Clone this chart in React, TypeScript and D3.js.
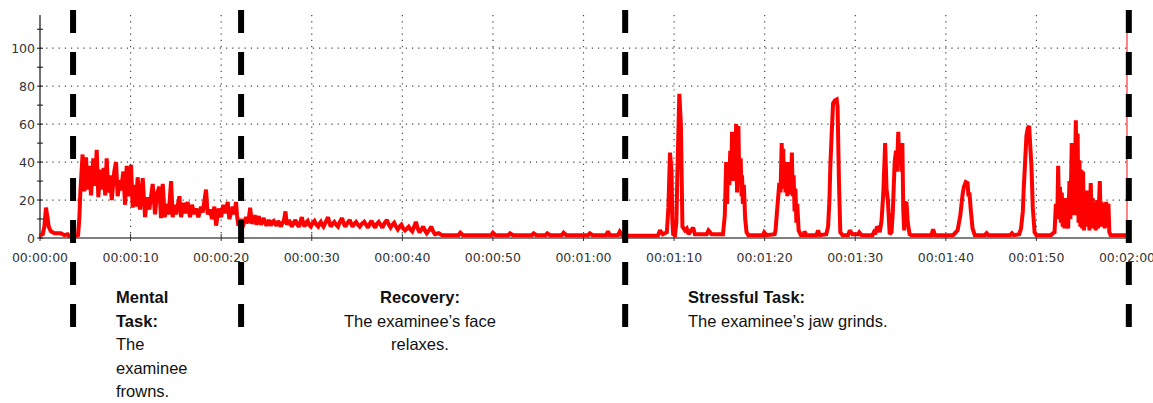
import React from "react";
import * as d3 from "d3";

// ---------- data (seconds, EMG amplitude) ----------
const restSeg: [number, number][] = [
  [0, 1.5], [0.3, 2], [0.48, 6], [0.66, 16], [0.85, 10], [0.96, 6], [1.2, 3.5], [1.6, 2.5],
  [2.3, 2.5], [2.7, 1.5], [3.05, 2], [3.2, 1], [3.9, 1], [4.2, 1.5],
];

const mentalSeg: [number, number][] = [
  [4.34, 10], [4.45, 24], [4.7, 44], [4.9, 24.5], [5.08, 42.5], [5.26, 25.5], [5.45, 38], [5.63, 22.5],
  [5.89, 42], [6.07, 27.5], [6.26, 46.5], [6.44, 21.5], [6.66, 36], [6.85, 25.5], [7.03, 37], [7.2, 22.5],
  [7.36, 42], [7.55, 24], [7.73, 33], [7.92, 20], [8.2, 35], [8.39, 40], [8.58, 22], [8.76, 30.5],
  [8.94, 25], [9.2, 35], [9.39, 17.5], [9.57, 38], [9.75, 22], [10.05, 38.5], [10.23, 16], [10.42, 28],
  [10.6, 16.5], [10.78, 32], [11.04, 15], [11.34, 31.5], [11.6, 11], [11.82, 21.5], [12.07, 15], [12.44, 28.5],
  [12.7, 12.5], [12.92, 23.5], [13.18, 27], [13.36, 10.5], [13.55, 28.5], [13.77, 11], [13.99, 18], [14.21, 12.5],
  [14.47, 30], [14.65, 11], [14.83, 17.5], [15.02, 12.5], [15.39, 22], [15.57, 11], [15.83, 18.5], [16.05, 13],
  [16.3, 19], [16.56, 11], [16.78, 17.5], [17.04, 12.5], [17.23, 15.5], [17.48, 11], [17.78, 16.5], [17.96, 13.5],
  [18.33, 25.5], [18.51, 12.5], [18.77, 15], [18.99, 10], [19.25, 16.5], [19.44, 6.5], [19.73, 15.5], [19.99, 11],
  [20.24, 17.5], [20.47, 13], [20.72, 19], [20.9, 10], [21.27, 16.5], [21.46, 12.5], [21.64, 19], [21.75, 12],
];

const recoverySeg: [number, number][] = [
  [21.9, 6.5], [22.05, 8.5], [22.2, 10], [22.35, 7.5], [22.45, 7], [22.6, 9], [22.75, 11], [22.9, 8.5],
  [23.0, 8], [23.2, 16], [23.4, 7.5], [23.55, 9.5], [23.7, 12], [23.9, 7], [24.0, 9], [24.15, 11.5],
  [24.4, 7], [24.55, 9], [24.7, 10.5], [24.85, 8], [25.0, 6.5], [25.25, 9.5], [25.4, 7.5], [25.5, 6.5],
  [25.65, 8.5], [25.8, 9], [25.95, 7.5], [26.1, 6.5], [26.3, 9], [26.45, 7.5], [26.6, 6], [26.75, 8],
  [26.9, 8.5], [27.1, 14], [27.25, 7], [27.5, 9.5], [27.65, 7.5], [27.8, 6], [28.0, 8], [28.2, 9.5],
  [28.4, 7], [28.6, 6], [28.75, 8.5], [28.9, 11], [29.05, 8], [29.2, 6], [29.35, 8], [29.55, 9],
  [29.7, 7], [29.9, 6], [30.1, 8], [30.3, 9], [30.5, 7], [30.7, 6], [30.85, 7.5], [31.0, 8.5],
  [31.15, 7], [31.3, 6], [31.55, 8.5], [31.8, 11], [31.95, 8], [32.1, 6], [32.3, 7.5], [32.5, 8.5],
  [32.7, 7], [32.9, 6], [33.1, 8.5], [33.35, 10.5], [33.5, 8], [33.7, 6], [33.95, 8], [34.2, 9.5],
  [34.35, 7.5], [34.5, 6], [34.7, 7.5], [34.9, 8.5], [35.1, 7], [35.3, 6], [35.55, 7.5], [35.8, 8.5],
  [36.0, 7], [36.2, 5.5], [36.4, 7.5], [36.6, 9], [36.8, 7], [37.0, 5.5], [37.2, 7.5], [37.4, 8.5],
  [37.6, 7], [37.8, 5.5], [38.05, 8], [38.3, 9.5], [38.5, 7], [38.7, 5.5], [38.9, 7], [39.1, 8],
  [39.3, 6], [39.5, 4.5], [39.7, 6], [39.9, 7], [40.1, 5], [40.3, 4], [40.5, 5], [40.7, 6],
  [40.9, 4.5], [41.1, 3.5], [41.3, 6], [41.5, 8.5], [41.7, 5], [41.9, 3], [42.1, 4.5], [42.3, 6],
  [42.5, 4], [42.7, 2.5], [42.95, 4], [43.2, 6], [43.4, 3.5], [43.6, 2], [44.0, 2.5], [44.4, 1.5],
];

const quietSeg: [number, number][] = [
  [45.0, 1.5], [46.2, 1.5], [46.4, 2.8], [46.7, 1.5], [49.8, 1.5], [50.0, 2.8], [50.3, 1.5], [51.7, 1.5],
  [51.9, 2.5], [52.2, 1.5], [54.3, 1.5], [54.5, 2.5], [54.8, 1.5], [55.8, 1.5], [56.0, 2.5], [56.3, 1.5],
  [57.6, 1.5], [57.8, 2.8], [58.1, 1.5], [60.5, 1.5], [60.7, 2.5], [61.0, 1.5], [62.5, 1.5], [62.7, 3.5],
  [62.9, 1.5], [63.8, 1.5], [64.0, 3.3], [64.3, 1.2], [66.0, 1.2],
];

const stressSeg: [number, number][] = [
  [68.2, 1.2], [68.45, 4], [68.75, 2], [69.2, 3], [69.37, 16], [69.55, 45], [69.72, 35], [69.8, 10],
  [69.9, 2], [70.1, 1.5], [70.25, 8], [70.35, 31], [70.58, 76], [70.75, 60], [70.92, 6], [71.2, 4],
  [71.4, 5], [71.6, 2], [72.1, 5.5], [72.3, 2], [73.6, 2], [73.8, 4], [74.15, 2], [75.4, 2],
  [75.6, 12], [75.75, 40], [75.85, 18], [75.95, 40], [76.1, 28], [76.2, 46], [76.3, 30], [76.4, 56],
  [76.5, 35], [76.65, 56], [76.75, 30], [76.85, 60], [76.95, 24], [77.1, 59], [77.2, 28], [77.35, 42],
  [77.45, 22], [77.5, 33], [77.6, 18], [77.7, 28], [77.85, 10], [78.0, 3], [78.2, 1.5], [79.8, 1.5],
  [79.95, 3], [80.2, 1.5], [81.1, 2], [81.2, 4], [81.33, 12], [81.5, 22], [81.62, 29], [81.75, 24],
  [81.88, 50], [81.95, 28], [82.05, 47], [82.12, 26], [82.2, 36], [82.3, 24], [82.4, 40], [82.5, 22],
  [82.6, 37], [82.7, 25], [82.8, 40], [82.9, 23], [83.0, 45], [83.1, 22], [83.2, 33], [83.3, 14],
  [83.4, 26], [83.5, 8], [83.6, 18], [83.75, 4], [84.0, 1.5], [84.3, 1.5], [84.4, 3.5], [84.6, 1.5],
  [85.7, 1.5], [85.9, 4], [86.1, 1.5], [86.8, 2], [87.0, 6], [87.15, 20], [87.25, 38], [87.4, 55],
  [87.55, 71], [87.75, 72.5], [87.95, 73], [88.05, 69], [88.2, 30], [88.35, 3], [88.6, 1.5], [89.2, 1.5],
  [89.4, 4], [89.7, 2], [90.3, 2], [90.45, 3], [90.7, 1.5], [91.9, 1.5], [92.05, 3], [92.2, 2],
  [92.4, 6], [92.6, 5], [92.7, 3], [92.9, 9], [93.1, 24], [93.3, 50], [93.45, 26], [93.6, 20],
  [93.8, 2], [94.0, 3], [94.15, 14], [94.35, 40], [94.5, 46], [94.6, 35], [94.75, 56], [94.85, 40],
  [95.0, 50], [95.1, 35], [95.2, 50], [95.3, 15], [95.4, 4], [95.5, 18], [95.65, 19], [95.8, 8],
  [96.0, 2], [96.2, 1.5], [98.4, 1.5], [98.6, 4.5], [98.8, 1.5], [100.8, 1.5], [101.0, 2.5], [101.3, 4],
  [101.6, 12], [101.85, 23], [102.0, 27], [102.2, 29.5], [102.4, 29], [102.5, 22], [102.6, 24], [102.75, 15],
  [102.95, 5], [103.2, 1.5], [104.3, 1.5], [104.5, 2.5], [104.7, 1.5], [107.1, 1.5], [107.3, 2.5], [107.5, 1.5],
  [108.1, 2], [108.3, 5], [108.5, 14], [108.6, 26], [108.75, 40], [108.9, 54], [109.05, 58], [109.2, 59],
  [109.3, 50], [109.45, 38], [109.6, 16], [109.8, 3], [110.0, 1.5], [111.6, 1.5], [111.8, 2.5], [112.0, 3],
  [112.15, 18], [112.3, 10], [112.4, 38], [112.5, 12], [112.6, 27], [112.7, 8], [112.8, 24], [112.9, 6],
  [113.0, 20], [113.1, 5], [113.2, 21], [113.3, 8], [113.4, 12], [113.5, 5], [113.65, 30], [113.75, 10],
  [113.9, 50], [114.0, 18], [114.1, 46], [114.2, 12], [114.35, 62], [114.45, 30], [114.55, 55], [114.65, 8],
  [114.75, 41], [114.85, 6], [114.95, 36], [115.05, 5], [115.15, 35], [115.25, 4], [115.35, 23], [115.45, 6],
  [115.55, 25], [115.65, 8], [115.75, 21], [115.85, 4], [116.0, 29], [116.1, 6], [116.2, 21], [116.3, 5],
  [116.45, 19], [116.55, 4], [116.7, 20], [116.8, 5], [117.0, 30], [117.1, 6], [117.2, 19], [117.3, 6],
  [117.45, 18], [117.55, 5], [117.7, 19], [117.8, 6], [117.95, 18], [118.05, 3], [118.2, 1.5], [120.0, 1.5],
];

const phaseMarks = [3.65, 22.2, 64.6, 120.2];
const cursorTime = 120;
const xTicks = [0, 10, 20, 30, 40, 50, 60, 70, 80, 90, 100, 110, 120];
const yMajorTicks = [0, 20, 40, 60, 80, 100];
const yMinorTicks = [10, 30, 50, 70, 90, 110];
const yGrid = [20, 40, 60, 80, 100];

const mentalLines = [
  { text: "Mental", bold: true },
  { text: "Task:", bold: true },
  { text: "The", bold: false },
  { text: "examinee", bold: false },
  { text: "frowns.", bold: false },
];
const recoveryLines = [
  { text: "Recovery:", bold: true },
  { text: "The examinee\u2019s face", bold: false },
  { text: "relaxes.", bold: false },
];
const stressLines = [
  { text: "Stressful Task:", bold: true },
  { text: "The examinee\u2019s jaw grinds.", bold: false },
];

const fmtTime = (s: number) => {
  const h = Math.floor(s / 3600);
  const m = Math.floor((s % 3600) / 60);
  const sec = Math.round(s % 60);
  const p = (n: number) => String(n).padStart(2, "0");
  return `${p(h)}:${p(m)}:${p(sec)}`;
};

export default function App() {
  const W = 1153;
  const H = 403;
  const x = d3.scaleLinear().domain([0, 120]).range([40, 1127]);
  const y = d3.scaleLinear().domain([0, 117.5]).range([238, 15]);
  const signal = [...restSeg, ...mentalSeg, ...recoverySeg, ...quietSeg, ...stressSeg];
  const line = d3
    .line<[number, number]>()
    .x((d) => x(d[0]))
    .y((d) => y(d[1]));

  const tickFont = "'DejaVu Sans', sans-serif";
  const textFont = "'Liberation Sans', Arial, sans-serif";
  const gridColor = "#444";
  const lh = 23.5;

  return (
    <svg
      width={W}
      height={H}
      style={{ position: "absolute", left: 0, top: 0, background: "#fff" }}
    >
      {/* grid */}
      {yGrid.map((v) => (
        <line
          key={"hg" + v}
          x1={x(0)}
          x2={x(120)}
          y1={y(v)}
          y2={y(v)}
          stroke={gridColor}
          strokeWidth={1.2}
          strokeDasharray="1.2 5"
        />
      ))}
      {xTicks.slice(1, -1).map((t) => (
        <line
          key={"vg" + t}
          x1={x(t)}
          x2={x(t)}
          y1={y(117.5)}
          y2={y(0)}
          stroke={gridColor}
          strokeWidth={1.2}
          strokeDasharray="1.2 5"
        />
      ))}

      {/* x axis */}
      <line x1={x(0)} x2={x(120)} y1={y(0)} y2={y(0)} stroke="#555" strokeWidth={1.6} />
      {xTicks.map((t) => (
        <line key={"xt" + t} x1={x(t)} x2={x(t)} y1={y(0) - 4} y2={y(0) + 3} stroke="#333" strokeWidth={1} />
      ))}
      {xTicks.map((t) => (
        <text
          key={"xl" + t}
          x={x(t)}
          y={262}
          textAnchor="middle"
          fontFamily={tickFont}
          fontSize={12.5}
          fill="#333"
        >
          {fmtTime(t)}
        </text>
      ))}

      {/* y axis */}
      <line x1={x(0)} x2={x(0)} y1={y(117.5)} y2={y(0)} stroke="#111" strokeWidth={1.2} />
      {[...yMajorTicks, ...yMinorTicks].map((v) => (
        <line key={"yt" + v} x1={x(0) - 3} x2={x(0) + 3} y1={y(v)} y2={y(v)} stroke="#111" strokeWidth={1} />
      ))}
      {yMajorTicks.map((v) => (
        <text
          key={"yl" + v}
          x={35}
          y={y(v)}
          dy="0.36em"
          textAnchor="end"
          fontFamily={tickFont}
          fontSize={12.5}
          fill="#333"
        >
          {v}
        </text>
      ))}

      {/* cursor */}
      <line x1={x(cursorTime)} x2={x(cursorTime)} y1={10} y2={y(0)} stroke="#ff5a5a" strokeWidth={1.5} />

      {/* signal */}
      <path
        d={line(signal) || ""}
        fill="none"
        stroke="#ff0000"
        strokeWidth={4}
        strokeLinejoin="miter"
        strokeMiterlimit={2}
      />

      {/* phase markers */}
      {phaseMarks.map((t) => (
        <line
          key={"pm" + t}
          x1={x(t)}
          x2={x(t)}
          y1={10}
          y2={328}
          stroke="#000"
          strokeWidth={6}
          strokeDasharray="23 19"
        />
      ))}

      {/* annotations */}
      <g fontFamily={textFont} fontSize={16.5} fill="#111">
        {mentalLines.map((l, i) => (
          <text key={"m" + i} x={116} y={303 + i * lh} fontWeight={l.bold ? "bold" : "normal"}>
            {l.text}
          </text>
        ))}
        {recoveryLines.map((l, i) => (
          <text
            key={"r" + i}
            x={420}
            y={303 + i * lh}
            textAnchor="middle"
            fontWeight={l.bold ? "bold" : "normal"}
          >
            {l.text}
          </text>
        ))}
        {stressLines.map((l, i) => (
          <text key={"s" + i} x={688} y={303 + i * lh} fontWeight={l.bold ? "bold" : "normal"}>
            {l.text}
          </text>
        ))}
      </g>
    </svg>
  );
}
